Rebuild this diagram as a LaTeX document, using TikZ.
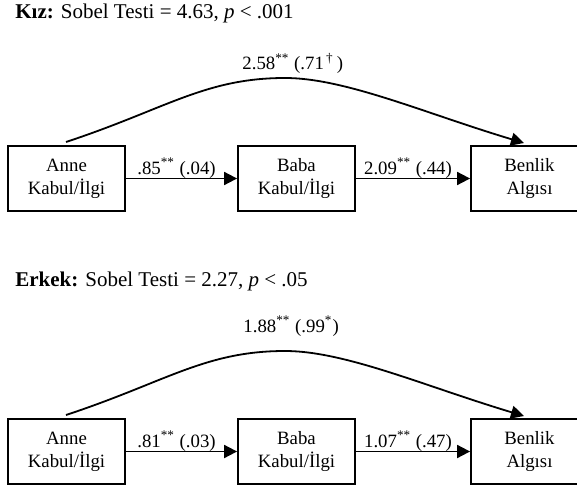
\documentclass[tikz,border=0pt]{standalone}
\usepackage{fontspec}
\setmainfont{Liberation Serif}
\usetikzlibrary{arrows.meta}
\begin{document}
\begin{tikzpicture}[x=0.5pt,y=-0.5pt,
  box/.style={draw,line width=0.9pt,minimum width=58.5pt,minimum height=32.5pt,align=center,inner sep=0pt,font=\fontsize{9.4}{11.5}\selectfont},
  conn/.style={line width=0.9pt,-{Triangle[length=6.5pt,width=6.5pt]}},
  lbl/.style={font=\fontsize{9.4}{11}\selectfont,inner sep=0pt,anchor=base},
  ttl/.style={font=\fontsize{10.5}{12}\selectfont,inner sep=0pt,anchor=base west}]
\useasboundingbox (0,0) rectangle (577,486);
% top panel
\node[ttl] (t1) at (15,19) {\textbf{Kız:} Sobel Testi = 4.63, \textit{p} < .001};
\node[box] (a1) at (66.5,178.5) {Anne\\Kabul/İlgi};
\node[box] (b1) at (296.5,178.5) {Baba\\Kabul/İlgi};
\node[box] (c1) at (529.5,178.5) {Benlik\\Algısı};
\draw[conn] (a1) -- node[lbl,yshift=2pt,xshift=-2.5pt]{.85\textsuperscript{**} (.04)} (b1);
\draw[conn] (b1) -- node[lbl,yshift=2pt,xshift=-2.5pt]{2.09\textsuperscript{**} (.44)} (c1);
\coordinate (s1) at (66,142);
\coordinate (p1) at (285,78);
\coordinate (e1) at (524,143);
\draw[conn] (s1) .. controls (166,109) and (205,78) .. (p1) .. controls (345,78) and (424,113) .. (e1);
\node[lbl,anchor=base west] (l1) at (242,70) {2.58\textsuperscript{**} (.71\textsuperscript{\,†}\,)};
% bottom panel
\node[ttl] (t2) at (15,286) {\textbf{Erkek:} Sobel Testi = 2.27, \textit{p} < .05};
\node[box] (a2) at (66.5,451.5) {Anne\\Kabul/İlgi};
\node[box] (b2) at (296.5,451.5) {Baba\\Kabul/İlgi};
\node[box] (c2) at (529.5,451.5) {Benlik\\Algısı};
\draw[conn] (a2) -- node[lbl,yshift=2pt,xshift=-2.5pt]{.81\textsuperscript{**} (.03)} (b2);
\draw[conn] (b2) -- node[lbl,yshift=2pt,xshift=-2.5pt]{1.07\textsuperscript{**} (.47)} (c2);
\coordinate (s2) at (66,415);
\coordinate (p2) at (285,351);
\coordinate (e2) at (524,416);
\draw[conn] (s2) .. controls (166,382) and (205,351) .. (p2) .. controls (345,351) and (424,386) .. (e2);
\node[lbl,anchor=base west] (l2) at (243,332) {1.88\textsuperscript{**} (.99\textsuperscript{*})};
\end{tikzpicture}
\end{document}
